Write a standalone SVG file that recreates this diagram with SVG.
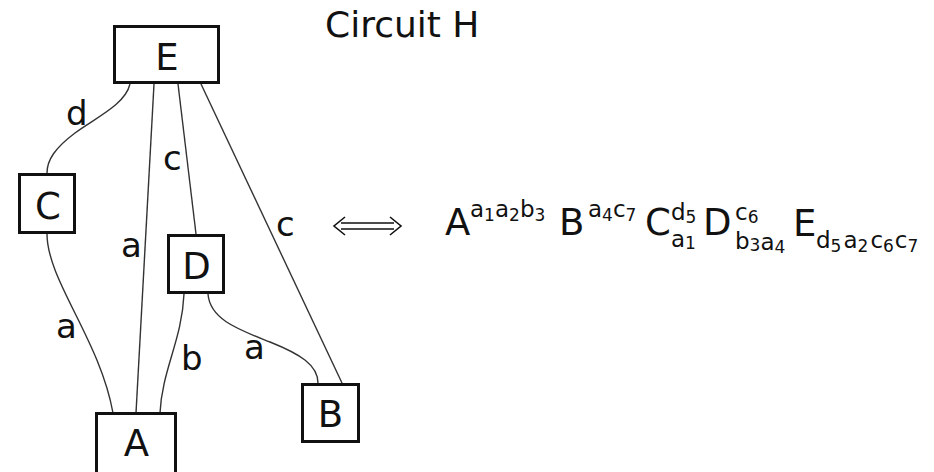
<svg xmlns="http://www.w3.org/2000/svg" width="934" height="472" viewBox="0 0 934 472">
<style>
.box{fill:#fff;stroke:#111;stroke-width:3}
.edge{fill:none;stroke:#333;stroke-width:1.4}
.nl{font-family:"DejaVu Sans",sans-serif;font-size:37px;fill:#111;text-anchor:middle}
.el{font-family:"DejaVu Sans",sans-serif;font-size:34px;fill:#111}
.big{font-family:"DejaVu Sans",sans-serif;font-size:37px;fill:#111}
.s{font-family:"DejaVu Sans",sans-serif;font-size:23px;fill:#111}
.ss{font-size:17px}
</style>
<rect width="934" height="472" fill="#fff"/>
<text x="325" y="37" font-family="DejaVu Sans, sans-serif" font-size="36" fill="#111">Circuit H</text>
<g id="connectors">
<path class="edge" d="M130,84 C125,105 95,118 75,133 C55,148 47,160 47,173"/>
<path class="edge" d="M154,84 L136,413"/>
<path class="edge" d="M178,84 L196,234"/>
<path class="edge" d="M201,84 L342,383"/>
<path class="edge" d="M47,234 C47,280 100,340 113,413"/>
<path class="edge" d="M184,294 C182,340 162,370 160,413"/>
<path class="edge" d="M208,294 C210,320 240,330 270,342 C300,354 318,365 318,383"/>
<text class="el" x="66" y="125">d</text>
<text class="el" x="163" y="170">c</text>
<text class="el" x="276" y="236">c</text>
<text class="el" x="121" y="257">a</text>
<text class="el" x="56" y="338">a</text>
<text class="el" x="181" y="370">b</text>
<text class="el" x="244" y="359">a</text>
</g>
<g id="node-E"><rect class="box" x="114.5" y="26.5" width="104" height="56"/><text class="nl" x="167" y="70">E</text></g>
<g id="node-C"><rect class="box" x="19.5" y="174.5" width="55" height="58"/><text class="nl" x="48" y="219">C</text></g>
<g id="node-D"><rect class="box" x="168.5" y="235.5" width="55" height="57"/><text class="nl" x="196.5" y="279">D</text></g>
<g id="node-A"><rect class="box" x="96.5" y="413.5" width="79" height="70"/><text class="nl" x="136.5" y="456">A</text></g>
<g id="node-B"><rect class="box" x="302.5" y="384.5" width="56" height="57"/><text class="nl" x="330.5" y="427">B</text></g>
<g id="equiv" fill="none" stroke="#111" stroke-width="1.6">
<path d="M341,223 H394 M341,229 H394"/>
<path d="M345,217 L334,226 L345,235"/>
<path d="M390,217 L401,226 L390,235"/>
</g>
<g id="formula">
<text class="big" x="445" y="235">A</text>
<text class="s" x="470" y="217">a<tspan class="ss" dy="4">1</tspan><tspan dy="-4">a</tspan><tspan class="ss" dy="4">2</tspan><tspan dy="-4">b</tspan><tspan class="ss" dy="4">3</tspan></text>
<text class="big" x="559" y="235">B</text>
<text class="s" x="588" y="217">a<tspan class="ss" dy="4">4</tspan><tspan dy="-4">c</tspan><tspan class="ss" dy="4">7</tspan></text>
<text class="big" x="645" y="235">C</text>
<text class="s" x="671" y="220">d<tspan class="ss" dy="3">5</tspan></text>
<text class="s" x="671" y="247">a<tspan class="ss" dy="2">1</tspan></text>
<text class="big" x="703" y="235">D</text>
<text class="s" x="735" y="220">c<tspan class="ss" dy="3">6</tspan></text>
<text class="s" x="735" y="249">b<tspan class="ss" dy="2">3</tspan><tspan dy="-1">a</tspan><tspan class="ss" dy="3">4</tspan></text>
<text class="big" x="793" y="236">E</text>
<text class="s" x="816" y="248">d<tspan class="ss" dy="4">5</tspan><tspan dx="2" dy="-4">a</tspan><tspan class="ss" dy="4">2</tspan><tspan dx="2" dy="-4">c</tspan><tspan class="ss" dy="4">6</tspan><tspan dx="1" dy="-4">c</tspan><tspan class="ss" dy="4">7</tspan></text>
</g>
</svg>
